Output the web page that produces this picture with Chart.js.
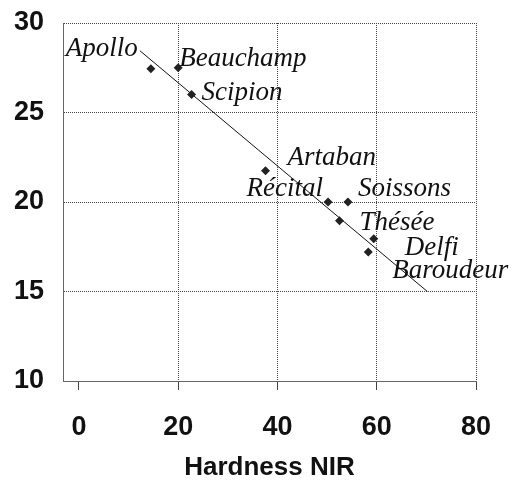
<!DOCTYPE html>
<html lang="en">

<head>
  <meta charset="UTF-8">
  <title>Hardness NIR</title>
  <script src="https://cdn.jsdelivr.net/npm/chart.js"></script>
  <style>
    html, body {
      margin: 0;
      padding: 0;
      background: #fff;
    }
    .chart-container {
      position: relative;
      width: 519px;
      height: 482px;
    }
  </style>
</head>

<body>
  <div class="chart-container">
    <canvas id="hardnessChart"></canvas>
  </div>

  <script>
    // values
    const varieties = ['Apollo', 'Beauchamp', 'Scipion', 'Artaban', 'Récital', 'Soissons', 'Thésée', 'Delfi', 'Baroudeur'];
    const hardness = [14.5, 20.0, 22.7, 37.6, 50.2, 54.2, 52.5, 59.4, 58.3];
    const yValues = [27.45, 27.5, 26.0, 21.75, 20.0, 20.0, 18.95, 17.95, 17.2];
    const fitX = [12.3, 70.2];
    const fitY = [28.45, 15.0];
    const xTicks = [0, 20, 40, 60, 80];
    const yTicks = [10, 15, 20, 25, 30];

    // where each name sits relative to its point: [dx, dy, align]
    const labelOffsets = [
      [-13, -13, 'right'],
      [1, -2, 'left'],
      [10, 5, 'left'],
      [22, -6, 'left'],
      [-5, -6, 'right'],
      [10, -6, 'left'],
      [20, 9, 'left'],
      [31, 16, 'left'],
      [24, 26, 'left']
    ];

    const pointLabels = {
      id: 'pointLabels',
      afterDatasetsDraw(chart) {
        const ctx = chart.ctx;
        const meta = chart.getDatasetMeta(0);
        ctx.save();
        ctx.font = 'italic 27px "Liberation Serif", "DejaVu Serif", serif';
        ctx.fillStyle = '#111';
        ctx.textBaseline = 'alphabetic';
        meta.data.forEach(function (pt, i) {
          const off = labelOffsets[i];
          ctx.textAlign = off[2];
          ctx.fillText(varieties[i], pt.x + off[0], pt.y + off[1]);
        });
        ctx.restore();
      }
    };

    const ctx = document.getElementById('hardnessChart').getContext('2d');
    new Chart(ctx, {
      type: 'scatter',
      data: {
        datasets: [{
          label: 'Varieties',
          data: hardness.map(function (x, i) { return { x: x, y: yValues[i] }; }),
          pointStyle: 'rectRot',
          pointRadius: 4.5,
          backgroundColor: '#222',
          borderColor: '#222',
          borderWidth: 0
        }, {
          label: 'Fit',
          type: 'line',
          data: fitX.map(function (x, i) { return { x: x, y: fitY[i] }; }),
          borderColor: '#111',
          borderWidth: 1,
          pointRadius: 0,
          fill: false,
          tension: 0
        }]
      },
      options: {
        responsive: true,
        maintainAspectRatio: false,
        animation: false,
        layout: {
          padding: { left: 0, right: 43, top: 23, bottom: 0 }
        },
        plugins: {
          legend: { display: false },
          tooltip: { enabled: false }
        },
        scales: {
          x: {
            type: 'linear',
            min: -3.2,
            max: 80,
            afterBuildTicks: function (scale) {
              scale.ticks = xTicks.map(function (v) { return { value: v }; });
            },
            afterFit: function (scale) {
              scale.height = 101;
            },
            grid: {
              color: function (c) { return c.tick && c.tick.value === 0 ? 'rgba(0,0,0,0)' : '#444'; },
              tickColor: '#444',
              tickLength: 9,
              lineWidth: 1
            },
            border: { color: '#666', dash: [1, 1] },
            ticks: {
              color: '#111',
              padding: 21,
              font: { family: '"Liberation Sans", Arial, sans-serif', size: 27, weight: 'bold' }
            },
            title: {
              display: true,
              text: 'Hardness NIR',
              color: '#111',
              padding: { top: 0, bottom: 1 },
              font: { family: '"Liberation Sans", Arial, sans-serif', size: 26, weight: 'bold', lineHeight: 1 }
            }
          },
          y: {
            type: 'linear',
            min: 10,
            max: 30,
            afterBuildTicks: function (scale) {
              scale.ticks = yTicks.map(function (v) { return { value: v }; });
            },
            afterFit: function (scale) {
              scale.width = 63;
              scale.paddingTop = 0;
              scale.paddingBottom = 0;
            },
            grid: {
              color: '#444',
              drawTicks: false,
              lineWidth: 1
            },
            border: { color: '#666', dash: [1, 1] },
            ticks: {
              color: '#111',
              padding: 19,
              font: { family: '"Liberation Sans", Arial, sans-serif', size: 27, weight: 'bold' }
            }
          }
        }
      },
      plugins: [pointLabels]
    });
  </script>
</body>

</html>
